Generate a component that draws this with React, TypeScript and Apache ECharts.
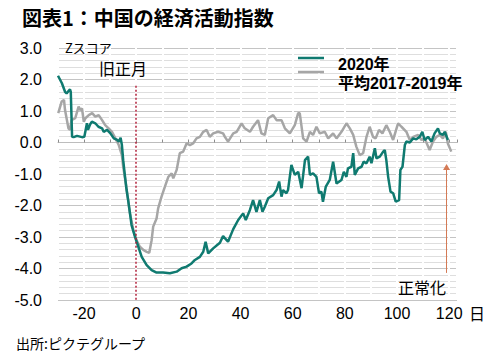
import React, { useEffect, useRef } from "react";
import * as echarts from "echarts";

const titleText = "図表1：中国の経済活動指数";
const sourceText = "出所:ピクテグループ";
const seriesNames = ["2020年", "平均2017-2019年"];
const xTickLabels = [-20, 0, 20, 40, 60, 80, 100, 120];

// 2020 (days from Lunar New Year, z-score)
const data2020: [number, number][] = [
  [-30.0, 2.12], [-28.5, 1.88], [-27.3, 1.61], [-26.7, 1.56], [-25.4, 1.69], [-25.1, 1.61],
  [-24.6, 0.18], [-24.0, 0.17], [-22.7, 0.21], [-20.8, 0.17], [-19.9, 0.18], [-18.9, 0.61],
  [-18.5, 0.40], [-17.6, 0.59], [-17.0, 0.66], [-15.7, 0.61], [-14.5, 0.50], [-13.1, 0.45],
  [-12.5, 0.34], [-11.2, 0.40], [-9.9, 0.29], [-8.6, 0.13], [-7.3, 0.08], [-6.7, 0.03],
  [-6.0, 0.15], [-5.5, -0.08], [-5.0, -0.56], [-4.3, -1.08], [-3.7, -1.51], [-3.1, -1.83],
  [-2.4, -2.25], [-1.8, -2.62], [-0.5, -2.99], [0.8, -3.31], [2.1, -3.63], [4.0, -3.89],
  [5.9, -4.05], [7.8, -4.13], [10.3, -4.13], [12.9, -4.15], [15.5, -4.10], [17.4, -3.99],
  [19.3, -3.94], [21.2, -3.84], [22.5, -3.73], [24.4, -3.63], [25.7, -3.47], [26.6, -3.15],
  [27.6, -3.52], [29.5, -3.36], [32.1, -3.18], [33.3, -2.97], [35.2, -3.15], [37.2, -2.75],
  [39.1, -2.46], [41.0, -2.25], [42.0, -2.46], [43.6, -2.14], [44.8, -1.83], [46.1, -2.20],
  [47.4, -1.83], [48.4, -2.20], [49.3, -2.04], [50.6, -1.77], [52.5, -1.67], [53.8, -1.51],
  [54.8, -1.24], [55.7, -1.72], [56.3, -1.51], [57.6, -1.61], [58.2, -1.51], [59.5, -0.71],
  [60.8, -1.03], [62.1, -0.93], [63.4, -1.45], [64.7, -0.56], [65.9, -0.45], [66.6, -1.03],
  [67.8, -0.98], [69.1, -1.09], [70.1, -1.61], [71.0, -1.56], [71.6, -1.88], [72.7, -1.40],
  [74.2, -1.19], [75.5, -0.61], [76.8, -1.30], [78.7, -1.19], [79.6, -0.93], [80.6, -1.09],
  [81.2, -0.82], [82.5, -0.77], [83.2, -0.34], [83.8, -1.03], [85.1, -0.82], [86.4, -0.77],
  [87.2, -0.61], [88.3, -0.66], [89.5, -0.45], [90.2, -0.66], [91.5, -0.18], [92.1, -0.50],
  [93.4, -0.45], [94.7, -0.29], [95.3, -0.24], [95.9, -0.56], [96.6, -1.09], [97.5, -1.56],
  [98.5, -1.61], [99.5, -1.88], [100.8, -1.83], [101.3, -0.87], [102.1, -0.77], [103.0, -0.08],
  [103.6, 0.03], [104.9, 0.0], [106.2, 0.13], [107.4, 0.10], [108.7, 0.18], [109.7, 0.34],
  [110.6, 0.08], [111.9, 0.18], [113.2, 0.03], [114.4, 0.29], [115.7, 0.45], [116.4, 0.29],
  [117.6, 0.24], [118.3, 0.34], [119.5, 0.08],
];

// Average 2017-2019
const dataAvg: [number, number][] = [
  [-29.9, 0.93], [-28.6, 1.30], [-27.7, 1.35], [-27.3, 1.03], [-26.0, 0.45], [-25.4, 0.40],
  [-24.8, 0.71], [-23.4, 0.77], [-22.1, 1.14], [-21.4, 1.03], [-20.8, 1.08], [-20.1, 0.66],
  [-19.5, 0.77], [-18.2, 0.87], [-16.9, 0.93], [-15.7, 0.82], [-14.4, 0.87], [-13.1, 0.71],
  [-11.9, 0.55], [-10.6, 0.45], [-9.3, 0.34], [-8.0, 0.13], [-6.7, -0.08], [-5.5, -0.40],
  [-5.0, -0.77], [-4.0, -1.30], [-3.1, -1.83], [-2.4, -2.25], [-1.1, -2.78], [0.1, -3.10],
  [1.4, -3.31], [2.7, -3.41], [4.0, -3.47], [5.0, -3.50], [5.9, -3.10], [6.5, -2.67],
  [7.8, -2.41], [8.4, -2.09], [9.7, -1.72], [11.0, -1.40], [12.3, -1.09], [13.6, -0.98],
  [14.2, -1.14], [15.5, -0.87], [16.7, -0.34], [18.0, -0.29], [19.3, -0.03], [20.6, -0.08],
  [21.8, -0.03], [23.1, 0.13], [24.4, 0.18], [25.7, 0.34], [27.0, 0.40], [28.2, 0.18],
  [29.5, 0.29], [31.4, 0.34], [33.3, 0.29], [34.0, 0.18], [35.2, 0.03], [37.2, 0.29],
  [38.5, 0.34], [40.4, 0.61], [41.6, 0.45], [43.6, 0.34], [44.8, 0.50], [46.7, 0.71],
  [48.0, 0.29], [49.3, 0.24], [50.6, 0.77], [52.5, 0.87], [53.8, 0.71], [55.7, 0.71],
  [57.0, 0.45], [58.9, 0.29], [60.8, 0.55], [62.1, 0.93], [62.7, 0.93], [64.0, 0.13],
  [65.3, 0.03], [66.6, 0.34], [67.8, 0.24], [69.1, 0.50], [70.4, 0.29], [72.3, 0.34],
  [73.6, 0.13], [75.5, 0.29], [76.8, 0.13], [78.7, 0.34], [80.6, 0.61], [81.9, 0.45],
  [83.2, 0.24], [84.4, -0.13], [85.7, -0.40], [87.0, -0.34], [88.3, 0.18], [89.5, 0.50],
  [90.8, 0.18], [91.8, 0.13], [93.1, 0.40], [94.4, 0.29], [95.9, 0.55], [97.2, 0.34],
  [98.5, 0.08], [100.4, 0.61], [101.7, 0.50], [103.6, 0.34], [104.9, 0.08], [106.2, 0.18],
  [108.1, 0.24], [109.4, 0.08], [110.6, 0.13], [112.5, -0.24], [113.8, 0.03], [115.1, 0.18],
  [116.4, 0.24], [117.6, 0.13], [118.7, 0.34], [119.5, -0.03], [120.8, -0.29],
];

// Annotations (data coordinates)
const lunarNewYearLine: [number, number][] = [[0, 1.8], [0, -5]];
const normalizationArrow: [number, number][] = [[119, -4.14], [119, -0.78]];

const TEAL = "#0f7a70";
const GRAY = "#a6a6a6";
const FONT = "'Liberation Sans', 'Noto Sans CJK JP', sans-serif";
const FONT_JP = "'Noto Sans CJK JP', 'Liberation Sans', sans-serif";

export default function App() {
  const ref = useRef<HTMLDivElement>(null);
  useEffect(() => {
    if (!ref.current) return;
    const chart = echarts.init(ref.current, null, { renderer: "svg" });
    const xCommon = { type: "value", min: -30, max: 123, interval: 10 };
    chart.setOption({
      animation: false,
      backgroundColor: "#ffffff",
      grid: { left: 58, right: 42, top: 48, bottom: 54, containLabel: false },
      xAxis: [
        {
          ...xCommon,
          position: "bottom",
          z: 1,
          axisLine: { show: false, onZero: false },
          axisTick: { show: false },
          axisLabel: {
            margin: 5,
            fontFamily: FONT,
            fontSize: 16,
            color: "#000",
            showMaxLabel: false,
            formatter: (v: number) => (xTickLabels.includes(v) ? String(v) : ""),
          },
          splitLine: { show: true, lineStyle: { color: "#ffffff", width: 2 } },
        },
        {
          ...xCommon,
          position: "bottom",
          z: 1,
          axisLine: { show: true, onZero: true, lineStyle: { color: "#bdbdbd", width: 1 } },
          axisTick: { show: true, inside: true, length: 3, lineStyle: { color: "#8c8c8c" } },
          axisLabel: { show: false },
          splitLine: { show: false },
        },
      ],
      yAxis: {
        type: "value",
        min: -5,
        max: 3,
        interval: 1,
        axisLine: { show: false },
        axisTick: { show: false },
        axisLabel: {
          margin: 16,
          fontFamily: FONT,
          fontSize: 16,
          color: "#000",
          formatter: (v: number) => v.toFixed(1),
        },
        splitLine: { show: true, lineStyle: { color: "#c4c4c4", width: 1 } },
        minorTick: { show: false, splitNumber: 5 },
        minorSplitLine: { show: true, lineStyle: { color: "#dedede", width: 1 } },
      },
      series: [
        {
          name: seriesNames[1],
          type: "line",
          data: dataAvg,
          showSymbol: false,
          lineStyle: { color: GRAY, width: 2.5 },
          itemStyle: { color: GRAY },
          z: 3,
          markLine: {
            silent: true,
            symbol: ["none", "triangle"],
            symbolSize: [7, 6],
            label: { show: false },
            lineStyle: { color: "#d47a55", width: 1, type: "solid" },
            data: [[{ coord: normalizationArrow[0] }, { coord: normalizationArrow[1] }]],
          },
        },
        {
          name: seriesNames[0],
          type: "line",
          data: data2020,
          showSymbol: false,
          lineStyle: { color: TEAL, width: 2.5 },
          itemStyle: { color: TEAL },
          z: 4,
          markLine: {
            silent: true,
            symbol: ["none", "none"],
            label: { show: false },
            lineStyle: { color: "#b0203a", width: 1.5, type: [2, 2] },
            data: [[{ coord: lunarNewYearLine[0] }, { coord: lunarNewYearLine[1] }]],
          },
        },
      ],
      graphic: [
        {
          type: "text",
          left: 22,
          top: 7,
          z: 100,
          style: { text: titleText, font: `bold 20px ${FONT_JP}`, fill: "#000" },
        },
        {
          type: "text",
          x: 65,
          y: 47,
          z: 100,
          style: { text: "Zスコア", font: `13px ${FONT_JP}`, fill: "#000", verticalAlign: "middle" },
        },
        {
          type: "text",
          x: 123,
          y: 68,
          z: 100,
          style: { text: "旧正月", font: `16px ${FONT_JP}`, fill: "#000", align: "center", verticalAlign: "middle" },
        },
        {
          type: "line",
          z: 100,
          shape: { x1: 298, y1: 58, x2: 324, y2: 58 },
          style: { stroke: TEAL, lineWidth: 2.5 },
        },
        {
          type: "line",
          z: 100,
          shape: { x1: 298, y1: 72, x2: 324, y2: 72 },
          style: { stroke: GRAY, lineWidth: 2.5 },
        },
        {
          type: "text",
          x: 338,
          y: 64,
          z: 100,
          style: { text: seriesNames[0], font: `bold 16px ${FONT}`, fill: "#000", verticalAlign: "middle" },
        },
        {
          type: "text",
          x: 338,
          y: 83,
          z: 100,
          style: { text: seriesNames[1], font: `bold 16px ${FONT}`, fill: "#000", verticalAlign: "middle" },
        },
        {
          type: "text",
          x: 422,
          y: 287,
          z: 100,
          style: { text: "正常化", font: `16px ${FONT_JP}`, fill: "#000", align: "center", verticalAlign: "middle" },
        },
        {
          type: "text",
          x: 477,
          y: 313,
          z: 100,
          style: { text: "日", font: `16px ${FONT_JP}`, fill: "#000", align: "center", verticalAlign: "middle" },
        },
        {
          type: "text",
          x: 16,
          y: 343,
          z: 100,
          style: { text: sourceText, font: `14px ${FONT_JP}`, fill: "#000", verticalAlign: "middle" },
        },
      ],
    });
    return () => chart.dispose();
  }, []);
  return (
    <div
      ref={ref}
      style={{ position: "fixed", left: 0, top: 0, width: 499, height: 354, background: "#fff" }}
    />
  );
}
